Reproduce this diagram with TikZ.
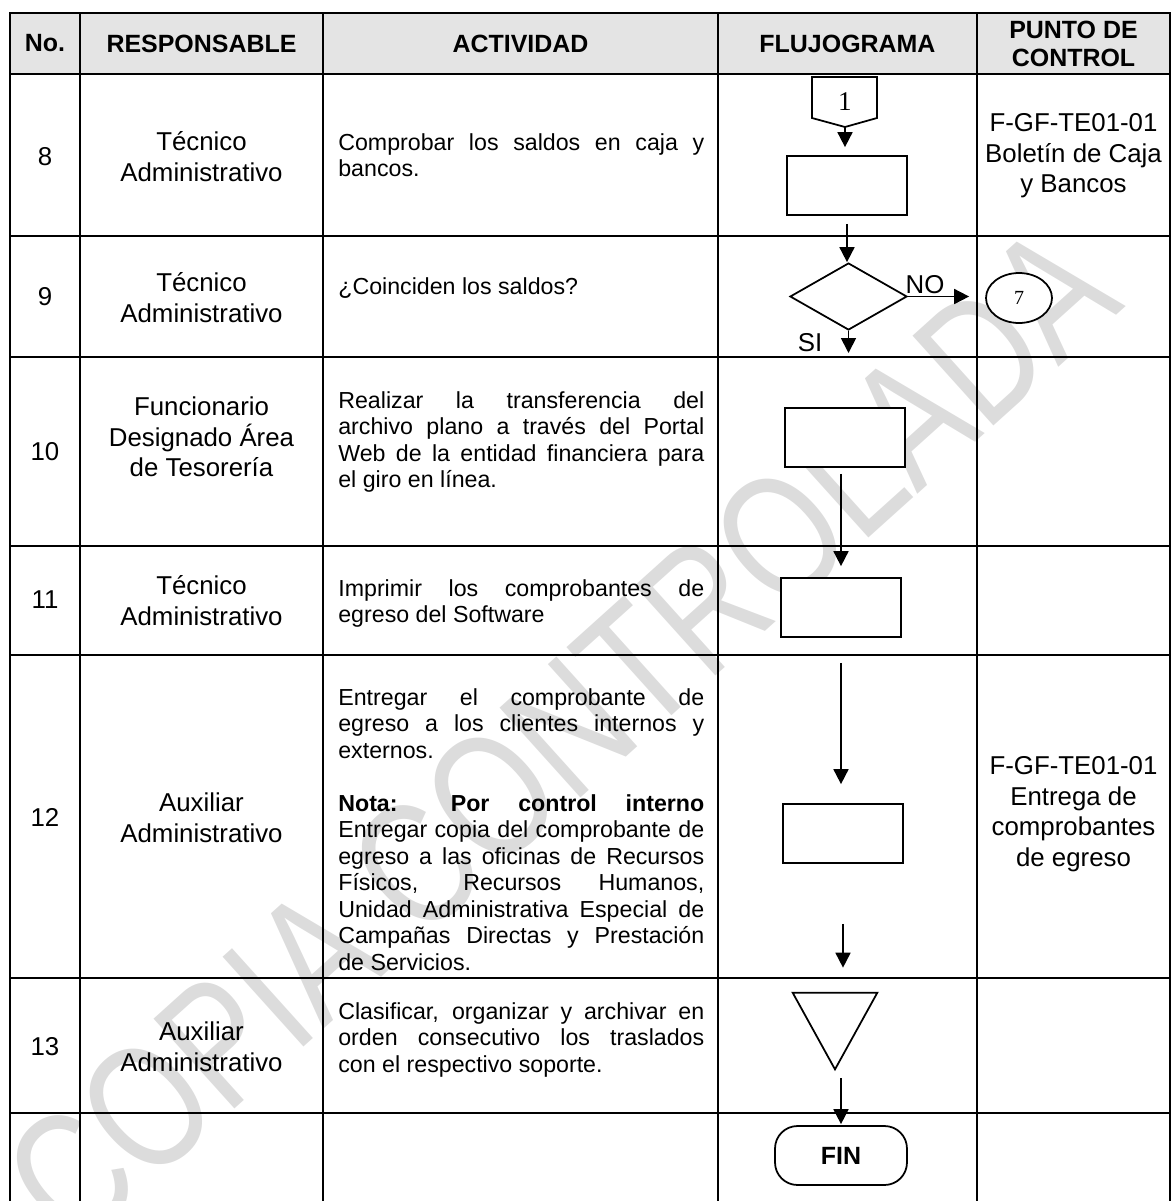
\documentclass[tikz,border=0pt]{standalone}
\usepackage{fontspec}
\setmainfont{Liberation Sans}
\newfontfamily\seriffont{Liberation Serif}
\usepackage{tikz}
\usetikzlibrary{positioning,arrows.meta,shapes.geometric,calc}
\definecolor{gray150}{HTML}{E4E4E4}
\definecolor{gray250}{HTML}{DCDCDC}
\newcommand{\cellfont}{\fontsize{14.7}{17.4}\selectfont}
\newcommand{\actfont}{\fontsize{13.2}{15.1}\selectfont}
\newcommand{\headfont}{\fontsize{14.2}{16}\selectfont\bfseries}
\tikzset{
  grid/.style={line width=1.5pt},
  shapeline/.style={line width=1pt},
  headcell/.style={font=\headfont, align=center, inner sep=0pt},
  numcell/.style={font=\cellfont, inner sep=0pt},
  respcell/.style={font=\cellfont, align=center, inner sep=0pt},
  actcell/.style={
    font=\actfont, text width=7.32cm, align=justify,
    anchor=base west, inner sep=0pt
  },
  procbox/.style={
    rectangle, draw, fill=white, line width=1pt,
    minimum width=2.4cm, minimum height=1.18cm, inner sep=0pt
  },
  decision/.style={
    diamond, draw, fill=white, line width=1pt,
    minimum width=2.34cm, minimum height=1.34cm, inner sep=0pt
  },
  connector/.style={
    ellipse, draw, fill=white, line width=1pt,
    minimum width=1.32cm, minimum height=1cm, inner sep=0pt,
    font=\seriffont\fontsize{11.4}{11.4}\selectfont
  },
  archive/.style={rectangle, minimum width=1.68cm, minimum height=1.52cm, inner sep=0pt},
  terminal/.style={
    rectangle, rounded corners=0.45cm, draw, fill=white, line width=1pt,
    minimum width=2.64cm, minimum height=1.18cm, inner sep=0pt,
    font=\headfont
  },
  flowarrow/.style={-{Triangle[length=8.5pt,width=8.5pt]}, line width=1pt},
  watermark/.style={font=\fontsize{100}{100}\selectfont, text=gray250, rotate=42, xscale=0.78, inner sep=0pt},
}

\begin{document}
\begin{tikzpicture}[x=0.02cm, y=-0.02cm]
  \useasboundingbox (0,0) rectangle (1171,1201);

  % watermark
  \node[watermark] (wmark) at (560,735) {COPIA CONTROLADA};

  % table grid
  \fill[gray150] (10,13) rectangle (1170,74);
  \draw[grid] (10,1201) -- (10,13) -- (1170,13) -- (1170,1201);
  \foreach \x in {80,323,718,977} \draw[grid] (\x,13) -- (\x,1201);
  \foreach \y in {74,236,357,546,655,978,1113} \draw[grid] (10,\y) -- (1170,\y);

  % header
  \node[headcell] (hno) at (45,43.5) {No.};
  \node[headcell] (hresp) at (201.5,43.5) {RESPONSABLE};
  \node[headcell] (hact) at (520.5,43.5) {ACTIVIDAD};
  \node[headcell] (hflujo) at (847.5,43.5) {FLUJOGRAMA};
  \node[headcell] (hctrl) at (1073.5,43.5) {PUNTO DE\\CONTROL};

  % No.
  \node[numcell] (n8) at (45,157) {8};
  \node[numcell] (n9) at (45,297) {9};
  \node[numcell] (n10) at (45,452) {10};
  \node[numcell] (n11) at (45,600) {11};
  \node[numcell] (n12) at (45,817) {12};
  \node[numcell] (n13) at (45,1047) {13};

  % responsable
  \node[respcell] (p8) at (201.5,156.5) {Técnico\\Administrativo};
  \node[respcell] (p9) at (201.5,297.5) {Técnico\\Administrativo};
  \node[respcell] (p10) at (201.5,437) {Funcionario\\Designado Área\\de Tesorería};
  \node[respcell] (p11) at (201.5,600.5) {Técnico\\Administrativo};
  \node[respcell] (p12) at (201.5,818) {Auxiliar\\Administrativo};
  \node[respcell] (p13) at (201.5,1047) {Auxiliar\\Administrativo};

  % actividad
  \node[actcell] (a8) at (338,150) {Comprobar los saldos en caja y\linebreak bancos.};
  \node[actcell] (a9) at (338,294) {¿Coinciden los saldos?};
  \node[actcell] (a10) at (338,408) {Realizar la transferencia del\linebreak archivo plano a través del Portal\linebreak Web de la entidad financiera para\linebreak el giro en línea.};
  \node[actcell] (a11) at (338,596) {Imprimir los comprobantes de\linebreak egreso del Software};
  \node[actcell] (a12) at (338,705) {Entregar el comprobante de\linebreak egreso a los clientes internos y\linebreak externos.\\[15.1pt]\textbf{Nota: Por control interno}\linebreak Entregar copia del comprobante de\linebreak egreso a las oficinas de Recursos\linebreak Físicos, Recursos Humanos,\linebreak Unidad Administrativa Especial de\linebreak Campañas Directas y Prestación\linebreak de Servicios.};
  \node[actcell] (a13) at (338,1019) {Clasificar, organizar y archivar en\linebreak orden consecutivo los traslados\linebreak con el respectivo soporte.};

  % punto de control
  \node[respcell] (k8) at (1073.5,156) {F-GF-TE01-01\\Boletín de Caja\\y Bancos};
  \node[respcell] (k12) at (1073.5,814) {F-GF-TE01-01\\Entrega de\\comprobantes\\de egreso};

  % flujograma
  \draw[shapeline, fill=white] (812,77) -- (877,77) -- (877,118) -- (845,127) -- (812,118) -- cycle;
  \node[font=\seriffont\fontsize{15.4}{15.4}\selectfont] (c1) at (845,102) {1};
  \coordinate (c1tip) at (845,127);
  \node[procbox] (r8) at (847,185.5) {};
  \draw[flowarrow, shorten >=0.16cm] (c1tip) -- (c1tip |- r8.north);

  \node[decision] (d9) at (848.5,296.5) {};
  \draw[flowarrow, shorten <=0.16cm] (r8.south) -- (r8.south |- d9.north);
  \node[connector] (o7) at (1019,298) {7};
  \draw[flowarrow, shorten >=0.32cm] (d9.east) -- (d9.east -| o7.west);
  \node[numcell] (lno) at (925,285) {NO};
  \coordinate (si) at (848.5,353);
  \draw[flowarrow] (d9.south) -- (si);
  \node[numcell] (lsi) at (810,343) {SI};

  \node[procbox] (r10) at (845,437.5) {};
  \node[procbox] (r11) at (841,607.5) {};
  \draw[flowarrow, shorten <=0.12cm, shorten >=0.22cm] (r11.north |- r10.south) -- (r11.north);

  \node[procbox] (r12) at (843,833.5) {};
  \draw[flowarrow, shorten <=0.5cm, shorten >=0.38cm] (r11.south) -- (r11.south |- r12.north);

  \node[archive] (t13) at (835,1031) {};
  \draw[shapeline, fill=white] (t13.north west) -- (t13.north east) -- (t13.south) -- cycle;
  \draw[flowarrow, shorten <=1.2cm, shorten >=0.5cm] (r12.south) -- (r12.south |- t13.north);

  \node[terminal] (fin) at (841,1155.5) {FIN};
  \draw[flowarrow, shorten <=0.18cm, shorten >=0.02cm] (fin.north |- t13.south) -- (fin.north);
\end{tikzpicture}
\end{document}
